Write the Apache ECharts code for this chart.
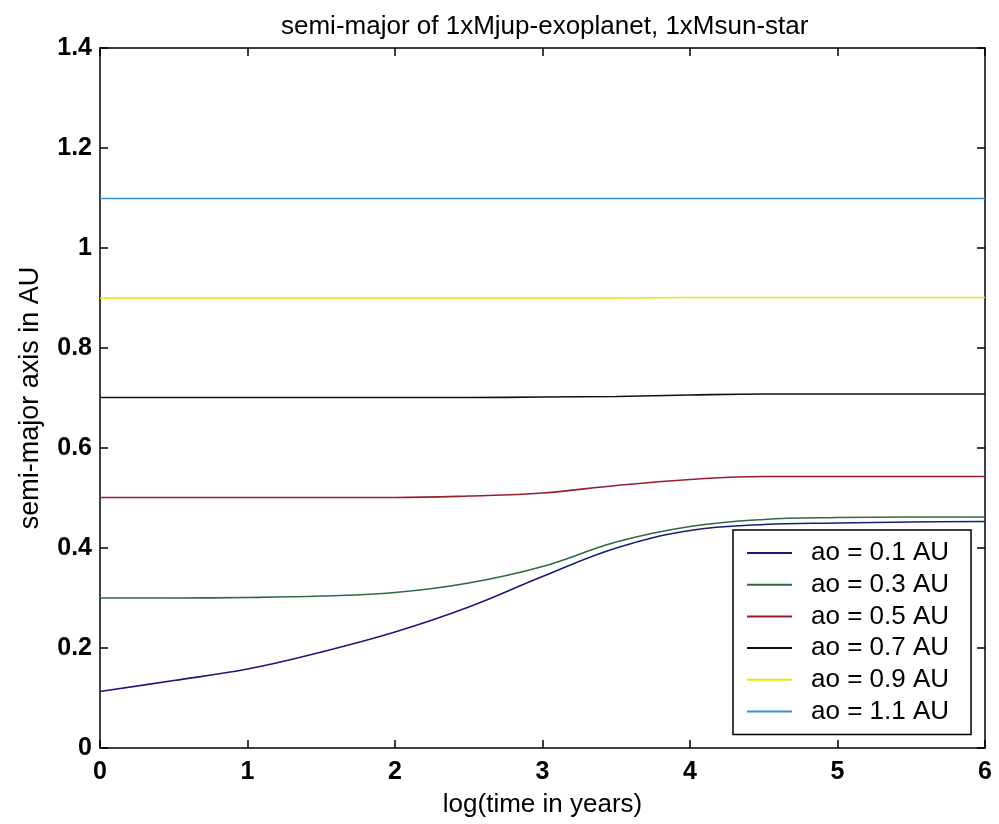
<!DOCTYPE html>
<html>
<head>
<meta charset="utf-8">
<script src="https://cdn.jsdelivr.net/npm/echarts@6/dist/echarts.min.js"></script>
<style>html,body{margin:0;padding:0;background:#fff;}#c{width:999px;height:824px;}</style>
</head>
<body>
<div id="c"></div>
<script>
// x values: log(time in years)
const xs = [0, 0.5, 1, 1.5, 2, 2.5, 3, 3.5, 4, 4.5, 5, 5.5, 6];
const a01 = [0.113, 0.135, 0.158, 0.192, 0.232, 0.282, 0.343, 0.400, 0.435, 0.447, 0.450, 0.452, 0.453];
const a03 = [0.300, 0.300, 0.301, 0.304, 0.311, 0.330, 0.363, 0.412, 0.443, 0.457, 0.461, 0.462, 0.462];
const a05 = [0.501, 0.501, 0.501, 0.501, 0.501, 0.504, 0.510, 0.525, 0.537, 0.543, 0.543, 0.543, 0.543];
const a07 = [0.701, 0.701, 0.701, 0.701, 0.701, 0.701, 0.702, 0.703, 0.706, 0.708, 0.708, 0.708, 0.708];
const a09 = [0.900, 0.900, 0.900, 0.900, 0.900, 0.900, 0.900, 0.900, 0.901, 0.901, 0.901, 0.901, 0.901];
const a11 = [1.099, 1.099, 1.099, 1.099, 1.099, 1.099, 1.099, 1.099, 1.099, 1.099, 1.099, 1.099, 1.099];
const seriesNames = ['ao = 0.1 AU', 'ao = 0.3 AU', 'ao = 0.5 AU', 'ao = 0.7 AU', 'ao = 0.9 AU', 'ao = 1.1 AU'];
const seriesData = [a01, a03, a05, a07, a09, a11];
const colors = ['#1c1c78', '#2f6b40', '#9a1c30', '#111111', '#e8e800', '#3d8fd6'];

const FONT = "'Liberation Sans', Arial, sans-serif";
const chart = echarts.init(document.getElementById('c'));

const axLine = { show: true, onZero: false, lineStyle: { color: '#000', width: 1.5 } };
const axTick = { show: true, inside: true, length: 8, lineStyle: { color: '#000', width: 1.5 } };

chart.setOption({
  animation: false,
  backgroundColor: '#fff',
  title: {
    text: 'semi-major of 1xMjup-exoplanet, 1xMsun-star',
    left: 276, top: 9,
    textStyle: { fontFamily: FONT, fontSize: 26, fontWeight: 'normal', color: '#000' }
  },
  legend: {
    orient: 'vertical',
    left: 733, top: 530,
    padding: [10, 22, 10, 14],
    itemWidth: 45, itemHeight: 2, itemGap: 5.7,
    icon: 'rect',
    backgroundColor: '#fff',
    borderColor: '#000', borderWidth: 1.5,
    textStyle: { fontFamily: FONT, fontSize: 26, color: '#000', lineHeight: 26, padding: [0, 0, 0, 14] },
    data: seriesNames
  },
  grid: { left: 100, right: 14, top: 48, bottom: 76, containLabel: false },
  xAxis: [{
    type: 'value', min: 0, max: 6, interval: 1,
    name: 'log(time in years)', nameLocation: 'middle', nameGap: 44,
    nameTextStyle: { fontFamily: FONT, fontSize: 26, color: '#000' },
    axisLine: axLine, axisTick: axTick, splitLine: { show: false },
    axisLabel: { fontFamily: FONT, fontSize: 25, fontWeight: 'bold', color: '#000', margin: 12 }
  }, {
    type: 'value', min: 0, max: 6, interval: 1, position: 'top',
    axisLine: axLine, axisTick: axTick, axisLabel: { show: false }, splitLine: { show: false }
  }],
  yAxis: [{
    type: 'value', min: 0, max: 1.4, interval: 0.2,
    name: 'semi-major axis in AU', nameLocation: 'middle', nameGap: 56,
    nameTextStyle: { fontFamily: FONT, fontSize: 27, color: '#000' },
    axisLine: axLine, axisTick: axTick, splitLine: { show: false },
    axisLabel: { fontFamily: FONT, fontSize: 25, fontWeight: 'bold', color: '#000', margin: 8,
      formatter: v => String(+v.toFixed(1)) }
  }, {
    type: 'value', min: 0, max: 1.4, interval: 0.2, position: 'right',
    axisLine: axLine, axisTick: axTick, axisLabel: { show: false }, splitLine: { show: false }
  }],
  series: seriesNames.map((n, i) => ({
    name: n, type: 'line', smooth: 0.4, symbol: 'none',
    xAxisIndex: 0, yAxisIndex: 0,
    lineStyle: { color: colors[i], width: 1.6 },
    itemStyle: { color: colors[i] },
    data: xs.map((x, j) => [x, seriesData[i][j]])
  }))
});
</script>
</body>
</html>
